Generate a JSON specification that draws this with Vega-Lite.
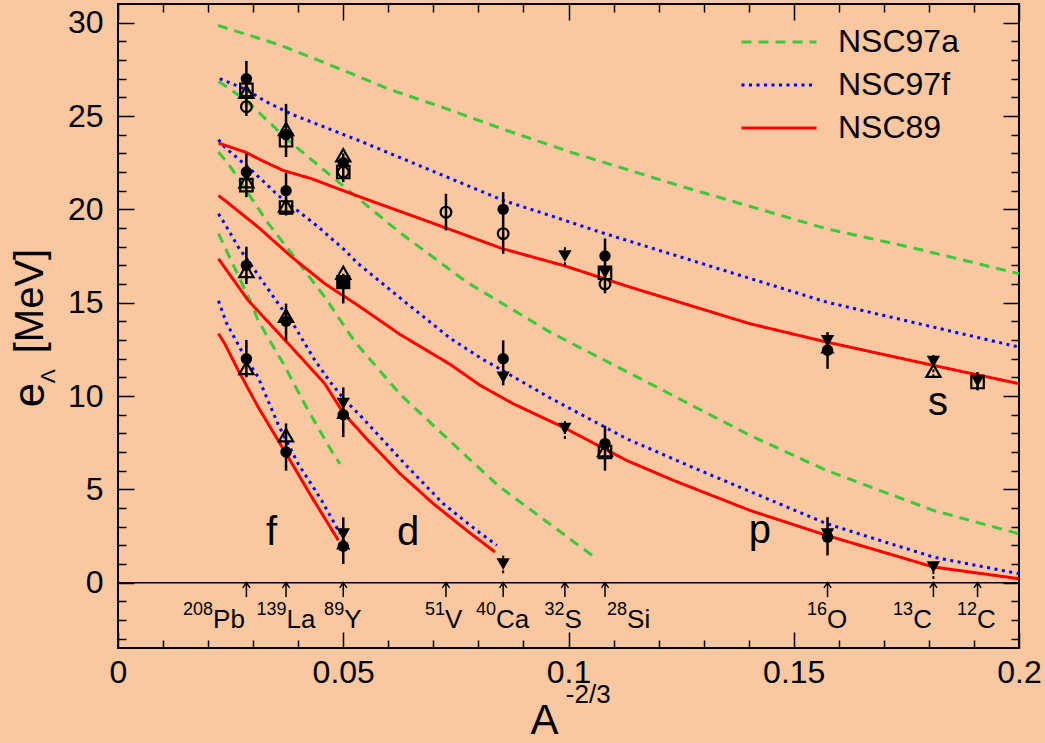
{
  "$schema": "https://vega.github.io/schema/vega-lite/v6.json",
  "width": 901,
  "height": 644,
  "autosize": {"type": "none"},
  "padding": {"left": 118, "top": 4, "right": 26, "bottom": 95},
  "background": "#FAC8A0",
  "config": {
    "view": {"stroke": "black", "strokeWidth": 2},
    "font": "Liberation Sans",
    "axis": {"domain": false, "grid": false, "tickColor": "black", "labelColor": "black", "labelFont": "Liberation Sans", "labelFontSize": 32, "tickWidth": 1.5, "titleColor": "black", "titleFont": "Liberation Sans", "titleFontWeight": "normal"},
    "legend": {"orient": "none", "legendX": 622, "legendY": 23, "symbolType": "stroke", "symbolSize": 5625, "symbolStrokeWidth": 3, "labelFontSize": 32, "labelFont": "Liberation Sans", "labelColor": "black", "clipHeight": 30, "rowPadding": 11, "labelOffset": 20, "padding": 0}
  },
  "datasets": {
    "curves": [
      {"m": "NSC97a", "c": "g1", "x": 0.0222, "y": 29.85}, {"m": "NSC97a", "c": "g1", "x": 0.036, "y": 28.8}, {"m": "NSC97a", "c": "g1", "x": 0.05, "y": 27.45}, {"m": "NSC97a", "c": "g1", "x": 0.06, "y": 26.45}, {"m": "NSC97a", "c": "g1", "x": 0.072, "y": 25.47}, {"m": "NSC97a", "c": "g1", "x": 0.0854, "y": 24.3}, {"m": "NSC97a", "c": "g1", "x": 0.1, "y": 23.1}, {"m": "NSC97a", "c": "g1", "x": 0.1255, "y": 21.2}, {"m": "NSC97a", "c": "g1", "x": 0.1573, "y": 18.96}, {"m": "NSC97a", "c": "g1", "x": 0.1773, "y": 17.89}, {"m": "NSC97a", "c": "g1", "x": 0.2, "y": 16.55},
      {"m": "NSC97a", "c": "g2", "x": 0.0223, "y": 26.85}, {"m": "NSC97a", "c": "g2", "x": 0.0237, "y": 26.63}, {"m": "NSC97a", "c": "g2", "x": 0.0286, "y": 25.8}, {"m": "NSC97a", "c": "g2", "x": 0.0378, "y": 23.69}, {"m": "NSC97a", "c": "g2", "x": 0.05, "y": 21.25}, {"m": "NSC97a", "c": "g2", "x": 0.0626, "y": 18.75}, {"m": "NSC97a", "c": "g2", "x": 0.0774, "y": 16.1}, {"m": "NSC97a", "c": "g2", "x": 0.0959, "y": 13.42}, {"m": "NSC97a", "c": "g2", "x": 0.1181, "y": 10.66}, {"m": "NSC97a", "c": "g2", "x": 0.1403, "y": 7.89}, {"m": "NSC97a", "c": "g2", "x": 0.1573, "y": 6.01}, {"m": "NSC97a", "c": "g2", "x": 0.181, "y": 3.87}, {"m": "NSC97a", "c": "g2", "x": 0.2, "y": 2.62},
      {"m": "NSC97a", "c": "g3", "x": 0.0223, "y": 23.07}, {"m": "NSC97a", "c": "g3", "x": 0.0245, "y": 22.44}, {"m": "NSC97a", "c": "g3", "x": 0.0334, "y": 19.23}, {"m": "NSC97a", "c": "g3", "x": 0.0386, "y": 17.62}, {"m": "NSC97a", "c": "g3", "x": 0.0459, "y": 15.3}, {"m": "NSC97a", "c": "g3", "x": 0.0526, "y": 12.9}, {"m": "NSC97a", "c": "g3", "x": 0.0626, "y": 10.1}, {"m": "NSC97a", "c": "g3", "x": 0.0759, "y": 7.09}, {"m": "NSC97a", "c": "g3", "x": 0.0848, "y": 5.12}, {"m": "NSC97a", "c": "g3", "x": 0.1062, "y": 1.29},
      {"m": "NSC97a", "c": "g4", "x": 0.0223, "y": 18.7}, {"m": "NSC97a", "c": "g4", "x": 0.0293, "y": 15.12}, {"m": "NSC97a", "c": "g4", "x": 0.0311, "y": 14.05}, {"m": "NSC97a", "c": "g4", "x": 0.0367, "y": 11.73}, {"m": "NSC97a", "c": "g4", "x": 0.0422, "y": 9.23}, {"m": "NSC97a", "c": "g4", "x": 0.0482, "y": 6.73}, {"m": "NSC97a", "c": "g4", "x": 0.0493, "y": 6.37},
      {"m": "NSC97f", "c": "b1", "x": 0.0226, "y": 27.0}, {"m": "NSC97f", "c": "b1", "x": 0.0286, "y": 26.4}, {"m": "NSC97f", "c": "b1", "x": 0.0326, "y": 25.8}, {"m": "NSC97f", "c": "b1", "x": 0.0385, "y": 25.1}, {"m": "NSC97f", "c": "b1", "x": 0.0533, "y": 23.7}, {"m": "NSC97f", "c": "b1", "x": 0.0855, "y": 20.48}, {"m": "NSC97f", "c": "b1", "x": 0.0959, "y": 19.67}, {"m": "NSC97f", "c": "b1", "x": 0.107, "y": 18.78}, {"m": "NSC97f", "c": "b1", "x": 0.1573, "y": 15.03}, {"m": "NSC97f", "c": "b1", "x": 0.181, "y": 13.69}, {"m": "NSC97f", "c": "b1", "x": 0.2, "y": 12.62},
      {"m": "NSC97f", "c": "b2", "x": 0.0223, "y": 23.73}, {"m": "NSC97f", "c": "b2", "x": 0.0237, "y": 23.33}, {"m": "NSC97f", "c": "b2", "x": 0.0297, "y": 22.08}, {"m": "NSC97f", "c": "b2", "x": 0.0356, "y": 20.74}, {"m": "NSC97f", "c": "b2", "x": 0.0445, "y": 19.05}, {"m": "NSC97f", "c": "b2", "x": 0.0504, "y": 17.8}, {"m": "NSC97f", "c": "b2", "x": 0.0533, "y": 17.09}, {"m": "NSC97f", "c": "b2", "x": 0.0633, "y": 15.12}, {"m": "NSC97f", "c": "b2", "x": 0.0737, "y": 13.1}, {"m": "NSC97f", "c": "b2", "x": 0.0807, "y": 12.0}, {"m": "NSC97f", "c": "b2", "x": 0.0855, "y": 11.35}, {"m": "NSC97f", "c": "b2", "x": 0.0959, "y": 9.9}, {"m": "NSC97f", "c": "b2", "x": 0.1129, "y": 7.71}, {"m": "NSC97f", "c": "b2", "x": 0.1292, "y": 6.01}, {"m": "NSC97f", "c": "b2", "x": 0.1573, "y": 3.16}, {"m": "NSC97f", "c": "b2", "x": 0.181, "y": 1.37}, {"m": "NSC97f", "c": "b2", "x": 0.2, "y": 0.48},
      {"m": "NSC97f", "c": "b3", "x": 0.0223, "y": 19.76}, {"m": "NSC97f", "c": "b3", "x": 0.0237, "y": 19.23}, {"m": "NSC97f", "c": "b3", "x": 0.0267, "y": 17.98}, {"m": "NSC97f", "c": "b3", "x": 0.0304, "y": 16.73}, {"m": "NSC97f", "c": "b3", "x": 0.0356, "y": 14.94}, {"m": "NSC97f", "c": "b3", "x": 0.0393, "y": 13.69}, {"m": "NSC97f", "c": "b3", "x": 0.0437, "y": 11.91}, {"m": "NSC97f", "c": "b3", "x": 0.0474, "y": 10.66}, {"m": "NSC97f", "c": "b3", "x": 0.0504, "y": 9.77}, {"m": "NSC97f", "c": "b3", "x": 0.0541, "y": 8.87}, {"m": "NSC97f", "c": "b3", "x": 0.0641, "y": 6.25}, {"m": "NSC97f", "c": "b3", "x": 0.0722, "y": 4.23}, {"m": "NSC97f", "c": "b3", "x": 0.0796, "y": 2.8}, {"m": "NSC97f", "c": "b3", "x": 0.0841, "y": 2.0},
      {"m": "NSC97f", "c": "b4", "x": 0.0223, "y": 15.1}, {"m": "NSC97f", "c": "b4", "x": 0.0241, "y": 13.9}, {"m": "NSC97f", "c": "b4", "x": 0.0282, "y": 12.08}, {"m": "NSC97f", "c": "b4", "x": 0.0311, "y": 11.01}, {"m": "NSC97f", "c": "b4", "x": 0.0356, "y": 8.45}, {"m": "NSC97f", "c": "b4", "x": 0.04, "y": 6.37}, {"m": "NSC97f", "c": "b4", "x": 0.0452, "y": 4.41}, {"m": "NSC97f", "c": "b4", "x": 0.0489, "y": 2.8}, {"m": "NSC97f", "c": "b4", "x": 0.0493, "y": 2.62},
      {"m": "NSC89", "c": "r1", "x": 0.0223, "y": 23.55}, {"m": "NSC89", "c": "r1", "x": 0.0282, "y": 23.07}, {"m": "NSC89", "c": "r1", "x": 0.0319, "y": 22.62}, {"m": "NSC89", "c": "r1", "x": 0.0367, "y": 22.08}, {"m": "NSC89", "c": "r1", "x": 0.043, "y": 21.64}, {"m": "NSC89", "c": "r1", "x": 0.0489, "y": 21.1}, {"m": "NSC89", "c": "r1", "x": 0.0548, "y": 20.57}, {"m": "NSC89", "c": "r1", "x": 0.0693, "y": 19.31}, {"m": "NSC89", "c": "r1", "x": 0.0854, "y": 17.89}, {"m": "NSC89", "c": "r1", "x": 0.0989, "y": 16.99}, {"m": "NSC89", "c": "r1", "x": 0.1137, "y": 15.83}, {"m": "NSC89", "c": "r1", "x": 0.1403, "y": 13.87}, {"m": "NSC89", "c": "r1", "x": 0.1573, "y": 12.89}, {"m": "NSC89", "c": "r1", "x": 0.181, "y": 11.64}, {"m": "NSC89", "c": "r1", "x": 0.2, "y": 10.66},
      {"m": "NSC89", "c": "r2", "x": 0.0223, "y": 20.74}, {"m": "NSC89", "c": "r2", "x": 0.0237, "y": 20.48}, {"m": "NSC89", "c": "r2", "x": 0.0311, "y": 19.05}, {"m": "NSC89", "c": "r2", "x": 0.0386, "y": 17.44}, {"m": "NSC89", "c": "r2", "x": 0.0459, "y": 16.02}, {"m": "NSC89", "c": "r2", "x": 0.0533, "y": 14.85}, {"m": "NSC89", "c": "r2", "x": 0.0626, "y": 13.3}, {"m": "NSC89", "c": "r2", "x": 0.0737, "y": 11.7}, {"m": "NSC89", "c": "r2", "x": 0.0804, "y": 10.57}, {"m": "NSC89", "c": "r2", "x": 0.0877, "y": 9.59}, {"m": "NSC89", "c": "r2", "x": 0.0988, "y": 8.33}, {"m": "NSC89", "c": "r2", "x": 0.1129, "y": 6.55}, {"m": "NSC89", "c": "r2", "x": 0.1233, "y": 5.48}, {"m": "NSC89", "c": "r2", "x": 0.1403, "y": 3.87}, {"m": "NSC89", "c": "r2", "x": 0.1573, "y": 2.53}, {"m": "NSC89", "c": "r2", "x": 0.181, "y": 0.84}, {"m": "NSC89", "c": "r2", "x": 0.2, "y": 0.21},
      {"m": "NSC89", "c": "r3", "x": 0.0223, "y": 17.35}, {"m": "NSC89", "c": "r3", "x": 0.0289, "y": 15.12}, {"m": "NSC89", "c": "r3", "x": 0.0385, "y": 12.62}, {"m": "NSC89", "c": "r3", "x": 0.0459, "y": 10.66}, {"m": "NSC89", "c": "r3", "x": 0.05, "y": 9.1}, {"m": "NSC89", "c": "r3", "x": 0.0552, "y": 7.7}, {"m": "NSC89", "c": "r3", "x": 0.0626, "y": 5.84}, {"m": "NSC89", "c": "r3", "x": 0.07, "y": 4.23}, {"m": "NSC89", "c": "r3", "x": 0.0774, "y": 2.8}, {"m": "NSC89", "c": "r3", "x": 0.0837, "y": 1.64},
      {"m": "NSC89", "c": "r4", "x": 0.0223, "y": 13.34}, {"m": "NSC89", "c": "r4", "x": 0.0237, "y": 12.8}, {"m": "NSC89", "c": "r4", "x": 0.0267, "y": 11.37}, {"m": "NSC89", "c": "r4", "x": 0.0311, "y": 9.41}, {"m": "NSC89", "c": "r4", "x": 0.0371, "y": 7.0}, {"m": "NSC89", "c": "r4", "x": 0.043, "y": 4.59}, {"m": "NSC89", "c": "r4", "x": 0.0489, "y": 2.27}
    ],
    "err": [
      {"x": 0.0285, "lo": 25.0, "hi": 27.95, "d": 0}, {"x": 0.0285, "lo": 20.65, "hi": 22.98, "d": 0}, {"x": 0.0285, "lo": 16.0, "hi": 18.0, "d": 0}, {"x": 0.0285, "lo": 11.0, "hi": 13.0, "d": 0},
      {"x": 0.0373, "lo": 22.8, "hi": 25.65, "d": 0}, {"x": 0.0373, "lo": 19.67, "hi": 21.94, "d": 0}, {"x": 0.0373, "lo": 12.98, "hi": 14.95, "d": 0}, {"x": 0.0373, "lo": 6.0, "hi": 8.53, "d": 0},
      {"x": 0.05, "lo": 21.46, "hi": 23.0, "d": 0}, {"x": 0.05, "lo": 14.96, "hi": 16.55, "d": 0}, {"x": 0.05, "lo": 7.8, "hi": 10.46, "d": 0}, {"x": 0.05, "lo": 1.0, "hi": 3.5, "d": 0},
      {"x": 0.0728, "lo": 18.87, "hi": 20.83, "d": 0},
      {"x": 0.0855, "lo": 17.62, "hi": 20.92, "d": 0}, {"x": 0.0855, "lo": 10.57, "hi": 12.98, "d": 0}, {"x": 0.0855, "lo": 0.5, "hi": 1.46, "d": 1},
      {"x": 0.0992, "lo": 17.0, "hi": 18.0, "d": 1}, {"x": 0.0992, "lo": 7.7, "hi": 8.7, "d": 1},
      {"x": 0.1081, "lo": 15.5, "hi": 18.44, "d": 0}, {"x": 0.1081, "lo": 6.0, "hi": 8.4, "d": 0},
      {"x": 0.1575, "lo": 11.46, "hi": 13.42, "d": 0}, {"x": 0.1575, "lo": 1.46, "hi": 3.51, "d": 0},
      {"x": 0.181, "lo": 11.0, "hi": 12.2, "d": 1}, {"x": 0.181, "lo": 0.2, "hi": 1.1, "d": 1},
      {"x": 0.1908, "lo": 10.3, "hi": 11.28, "d": 0}
    ],
    "pts": [
      {"m": "fc", "x": 0.0285, "y": 27.0}, {"m": "fc", "x": 0.0285, "y": 22.0}, {"m": "fc", "x": 0.0285, "y": 17.0}, {"m": "fc", "x": 0.0285, "y": 12.0},
      {"m": "fc", "x": 0.0373, "y": 24.0}, {"m": "fc", "x": 0.0373, "y": 21.0}, {"m": "fc", "x": 0.0373, "y": 14.0}, {"m": "fc", "x": 0.0373, "y": 7.0},
      {"m": "fc", "x": 0.05, "y": 22.5}, {"m": "fc", "x": 0.05, "y": 9.0}, {"m": "fc", "x": 0.05, "y": 1.95},
      {"m": "fc", "x": 0.0855, "y": 20.0}, {"m": "fc", "x": 0.0855, "y": 12.0},
      {"m": "fc", "x": 0.1081, "y": 17.5}, {"m": "fc", "x": 0.1081, "y": 7.45},
      {"m": "fc", "x": 0.1575, "y": 12.45}, {"m": "fc", "x": 0.1575, "y": 2.44},
      {"m": "oc", "x": 0.0285, "y": 25.5}, {"m": "oc", "x": 0.05, "y": 22.0}, {"m": "oc", "x": 0.0728, "y": 19.85}, {"m": "oc", "x": 0.0855, "y": 18.7}, {"m": "oc", "x": 0.1081, "y": 16.0},
      {"m": "os", "x": 0.0285, "y": 26.4}, {"m": "os", "x": 0.0285, "y": 21.3}, {"m": "os", "x": 0.0373, "y": 23.7}, {"m": "os", "x": 0.0373, "y": 20.1}, {"m": "os", "x": 0.05, "y": 22.0}, {"m": "os", "x": 0.1081, "y": 16.6}, {"m": "os", "x": 0.1081, "y": 7.0}, {"m": "os", "x": 0.1908, "y": 10.75},
      {"m": "fs", "x": 0.05, "y": 16.1},
      {"m": "ot", "x": 0.0285, "y": 26.3}, {"m": "ot", "x": 0.0285, "y": 21.5}, {"m": "ot", "x": 0.0285, "y": 16.7}, {"m": "ot", "x": 0.0285, "y": 11.5},
      {"m": "ot", "x": 0.0373, "y": 24.3}, {"m": "ot", "x": 0.0373, "y": 20.2}, {"m": "ot", "x": 0.0373, "y": 14.3}, {"m": "ot", "x": 0.0373, "y": 7.9},
      {"m": "ot", "x": 0.05, "y": 22.9}, {"m": "ot", "x": 0.05, "y": 16.6}, {"m": "ot", "x": 0.1081, "y": 7.1}, {"m": "ot", "x": 0.181, "y": 11.35},
      {"m": "ft", "x": 0.05, "y": 9.1}, {"m": "ft", "x": 0.05, "y": 2.1}, {"m": "ft", "x": 0.1575, "y": 12.6},
      {"m": "fd", "x": 0.05, "y": 9.6}, {"m": "fd", "x": 0.05, "y": 2.6}, {"m": "fd", "x": 0.0855, "y": 11.0}, {"m": "fd", "x": 0.0855, "y": 1.0},
      {"m": "fd", "x": 0.0992, "y": 17.5}, {"m": "fd", "x": 0.0992, "y": 8.25}, {"m": "fd", "x": 0.1081, "y": 16.6},
      {"m": "fd", "x": 0.1575, "y": 12.95}, {"m": "fd", "x": 0.1575, "y": 2.6}, {"m": "fd", "x": 0.181, "y": 11.85}, {"m": "fd", "x": 0.181, "y": 0.84}, {"m": "fd", "x": 0.1908, "y": 10.8}
    ],
    "nuc": [
      {"x": 0.0285, "jx": 0.0211, "sup": "208", "el": "Pb"},
      {"x": 0.0373, "jx": 0.0374, "sup": "139", "el": "La"},
      {"x": 0.05, "jx": 0.0502, "sup": "89", "el": "Y"},
      {"x": 0.0728, "jx": 0.0726, "sup": "51", "el": "V"},
      {"x": 0.0855, "jx": 0.0839, "sup": "40", "el": "Ca"},
      {"x": 0.0992, "jx": 0.0991, "sup": "32", "el": "S"},
      {"x": 0.1081, "jx": 0.113, "sup": "28", "el": "Si"},
      {"x": 0.1575, "jx": 0.1574, "sup": "16", "el": "O"},
      {"x": 0.181, "jx": 0.1765, "sup": "13", "el": "C"},
      {"x": 0.1908, "jx": 0.1907, "sup": "12", "el": "C"}
    ],
    "orb": [
      {"t": "s", "x": 0.182, "y": 8.98},
      {"t": "p", "x": 0.1425, "y": 2.11},
      {"t": "f", "x": 0.0341, "y": 2.02},
      {"t": "d", "x": 0.0644, "y": 2.02}
    ]
  },
  "resolve": {"axis": {"x": "independent", "y": "independent"}},
  "layer": [
    {
      "data": {"name": "curves"},
      "mark": {"type": "line", "strokeWidth": 3},
      "encoding": {
        "x": {"field": "x", "type": "quantitative", "scale": {"domain": [0, 0.2], "nice": false, "zero": false},
          "axis": {"orient": "bottom", "values": [0, 0.05, 0.1, 0.15, 0.2], "format": "~g", "tickSize": -16, "labelPadding": 25, "labelFlush": false, "labelOverlap": false, "domain": false, "grid": false,
            "title": "A", "titleFontSize": 42, "titleX": 412, "titleY": 94, "titleAlign": "left", "titleBaseline": "bottom", "titleAnchor": "start"}},
        "y": {"field": "y", "type": "quantitative", "scale": {"domain": [-3.5, 31], "nice": false, "zero": false},
          "axis": {"orient": "left", "values": [0, 5, 10, 15, 20, 25, 30], "tickSize": -16, "labelPadding": 31, "labelOverlap": false, "domain": false, "grid": false,
            "title": "e", "titleFontSize": 44, "titleAngle": 270, "titleX": -75, "titleY": 402.7, "titleAlign": "left", "titleBaseline": "alphabetic", "titleAnchor": "start"}},
        "detail": {"field": "c"},
        "color": {"field": "m", "type": "nominal", "title": null, "scale": {"domain": ["NSC97a", "NSC97f", "NSC89"], "range": ["#3CC83C", "#0000FF", "#FF0000"]}},
        "strokeDash": {"field": "m", "type": "nominal", "title": null, "scale": {"domain": ["NSC97a", "NSC97f", "NSC89"], "range": [[10, 7], [3, 4.5], [1, 0]]}}
      }
    },
    {
      "data": {"values": [{"y": 0}]},
      "mark": {"type": "rule", "color": "black", "strokeWidth": 1.5},
      "encoding": {
        "y": {"field": "y", "type": "quantitative", "scale": {"domain": [-3.5, 31], "nice": false, "zero": false}, "axis": null}
      }
    },
    {
      "data": {"name": "nuc"},
      "mark": {"type": "point", "shape": "M0,0L0,1.8M-0.45,0.65L0,0L0.45,0.65", "size": 256, "filled": false, "color": "black", "strokeWidth": 1.5, "opacity": 1},
      "encoding": {
        "x": {"field": "x", "type": "quantitative", "scale": {"domain": [0, 0.2], "nice": false, "zero": false}, "axis": null},
        "y": {"datum": 0, "type": "quantitative", "scale": {"domain": [-3.5, 31], "nice": false, "zero": false}, "axis": null}
      }
    },
    {
      "data": {"name": "nuc"},
      "mark": {"type": "text", "align": "right", "baseline": "alphabetic", "fontSize": 18, "font": "Liberation Sans", "color": "black"},
      "encoding": {
        "x": {"field": "jx", "type": "quantitative", "scale": {"domain": [0, 0.2], "nice": false, "zero": false}, "axis": null},
        "y": {"datum": -1.73, "type": "quantitative", "scale": {"domain": [-3.5, 31], "nice": false, "zero": false}, "axis": null},
        "text": {"field": "sup"}
      }
    },
    {
      "data": {"name": "nuc"},
      "mark": {"type": "text", "align": "left", "baseline": "alphabetic", "fontSize": 26, "font": "Liberation Sans", "color": "black"},
      "encoding": {
        "x": {"field": "jx", "type": "quantitative", "scale": {"domain": [0, 0.2], "nice": false, "zero": false}, "axis": null},
        "y": {"datum": -2.43, "type": "quantitative", "scale": {"domain": [-3.5, 31], "nice": false, "zero": false}, "axis": null},
        "text": {"field": "el"}
      }
    },
    {
      "data": {"name": "orb"},
      "mark": {"type": "text", "align": "center", "baseline": "alphabetic", "fontSize": 40, "font": "Liberation Sans", "color": "black"},
      "encoding": {
        "x": {"field": "x", "type": "quantitative", "scale": {"domain": [0, 0.2], "nice": false, "zero": false}, "axis": null},
        "y": {"field": "y", "type": "quantitative", "scale": {"domain": [-3.5, 31], "nice": false, "zero": false}, "axis": null},
        "text": {"field": "t"}
      }
    },
    {
      "data": {"values": [{"t": "-2/3"}]},
      "mark": {"type": "text", "align": "left", "baseline": "alphabetic", "fontSize": 26, "font": "Liberation Sans", "color": "black"},
      "encoding": {
        "x": {"datum": 0.0994, "type": "quantitative", "scale": {"domain": [0, 0.2], "nice": false, "zero": false}, "axis": null},
        "y": {"datum": -6.45, "type": "quantitative", "scale": {"domain": [-3.5, 31], "nice": false, "zero": false}, "axis": null},
        "text": {"field": "t"}
      }
    },
    {
      "data": {"values": [{"t": "Λ"}]},
      "mark": {"type": "text", "align": "left", "baseline": "alphabetic", "angle": 270, "fontSize": 21, "font": "Liberation Sans", "color": "black"},
      "encoding": {
        "x": {"datum": -0.01398, "type": "quantitative", "scale": {"domain": [0, 0.2], "nice": false, "zero": false}, "axis": null},
        "y": {"datum": 10.68, "type": "quantitative", "scale": {"domain": [-3.5, 31], "nice": false, "zero": false}, "axis": null},
        "text": {"field": "t"}
      }
    },
    {
      "data": {"values": [{"t": "[MeV]"}]},
      "mark": {"type": "text", "align": "left", "baseline": "alphabetic", "angle": 270, "fontSize": 40, "font": "Liberation Sans", "color": "black"},
      "encoding": {
        "x": {"datum": -0.01665, "type": "quantitative", "scale": {"domain": [0, 0.2], "nice": false, "zero": false}, "axis": null},
        "y": {"datum": 12.29, "type": "quantitative", "scale": {"domain": [-3.5, 31], "nice": false, "zero": false}, "axis": null},
        "text": {"field": "t"}
      }
    },
    {
      "data": {"name": "err"},
      "transform": [{"filter": "datum.d == 0"}],
      "mark": {"type": "rule", "color": "black", "strokeWidth": 2.5},
      "encoding": {
        "x": {"field": "x", "type": "quantitative", "scale": {"domain": [0, 0.2], "nice": false, "zero": false}, "axis": null},
        "y": {"field": "lo", "type": "quantitative", "scale": {"domain": [-3.5, 31], "nice": false, "zero": false}, "axis": null},
        "y2": {"field": "hi"}
      }
    },
    {
      "data": {"name": "err"},
      "transform": [{"filter": "datum.d == 1"}],
      "mark": {"type": "rule", "color": "black", "strokeWidth": 2, "strokeDash": [3, 2]},
      "encoding": {
        "x": {"field": "x", "type": "quantitative", "scale": {"domain": [0, 0.2], "nice": false, "zero": false}, "axis": null},
        "y": {"field": "lo", "type": "quantitative", "scale": {"domain": [-3.5, 31], "nice": false, "zero": false}, "axis": null},
        "y2": {"field": "hi"}
      }
    },
    {
      "data": {"name": "pts"},
      "transform": [{"filter": "datum.m == 'fc'"}],
      "mark": {"type": "point", "shape": "circle", "filled": true, "size": 130, "color": "black", "opacity": 1},
      "encoding": {
        "x": {"field": "x", "type": "quantitative", "scale": {"domain": [0, 0.2], "nice": false, "zero": false},
          "axis": {"orient": "bottom", "values": [0.01, 0.02, 0.03, 0.04, 0.06, 0.07, 0.08, 0.09, 0.11, 0.12, 0.13, 0.14, 0.16, 0.17, 0.18, 0.19], "tickSize": -8, "labels": false, "domain": false, "grid": false, "title": null}},
        "y": {"field": "y", "type": "quantitative", "scale": {"domain": [-3.5, 31], "nice": false, "zero": false},
          "axis": {"orient": "left", "values": [-3, -2, -1, 1, 2, 3, 4, 6, 7, 8, 9, 11, 12, 13, 14, 16, 17, 18, 19, 21, 22, 23, 24, 26, 27, 28, 29], "tickSize": -8, "labels": false, "domain": false, "grid": false, "title": null}}
      }
    },
    {
      "data": {"name": "pts"},
      "transform": [{"filter": "datum.m == 'oc'"}],
      "mark": {"type": "point", "shape": "circle", "filled": false, "size": 115, "color": "black", "strokeWidth": 2.2, "opacity": 1},
      "encoding": {
        "x": {"field": "x", "type": "quantitative", "scale": {"domain": [0, 0.2], "nice": false, "zero": false},
          "axis": {"orient": "top", "values": [0, 0.05, 0.1, 0.15, 0.2], "tickSize": -16, "labels": false, "domain": false, "grid": false, "title": null}},
        "y": {"field": "y", "type": "quantitative", "scale": {"domain": [-3.5, 31], "nice": false, "zero": false},
          "axis": {"orient": "right", "values": [0, 5, 10, 15, 20, 25, 30], "tickSize": -16, "labels": false, "domain": false, "grid": false, "title": null}}
      }
    },
    {
      "data": {"name": "pts"},
      "transform": [{"filter": "datum.m == 'os'"}],
      "mark": {"type": "point", "shape": "square", "filled": false, "size": 155, "color": "black", "strokeWidth": 2.2, "opacity": 1},
      "encoding": {
        "x": {"field": "x", "type": "quantitative", "scale": {"domain": [0, 0.2], "nice": false, "zero": false},
          "axis": {"orient": "top", "values": [0.01, 0.02, 0.03, 0.04, 0.06, 0.07, 0.08, 0.09, 0.11, 0.12, 0.13, 0.14, 0.16, 0.17, 0.18, 0.19], "tickSize": -8, "labels": false, "domain": false, "grid": false, "title": null}},
        "y": {"field": "y", "type": "quantitative", "scale": {"domain": [-3.5, 31], "nice": false, "zero": false},
          "axis": {"orient": "right", "values": [-3, -2, -1, 1, 2, 3, 4, 6, 7, 8, 9, 11, 12, 13, 14, 16, 17, 18, 19, 21, 22, 23, 24, 26, 27, 28, 29], "tickSize": -8, "labels": false, "domain": false, "grid": false, "title": null}}
      }
    },
    {
      "data": {"name": "pts"},
      "transform": [{"filter": "datum.m == 'fs'"}],
      "mark": {"type": "point", "shape": "square", "filled": true, "size": 200, "color": "black", "opacity": 1},
      "encoding": {
        "x": {"field": "x", "type": "quantitative", "scale": {"domain": [0, 0.2], "nice": false, "zero": false}, "axis": null},
        "y": {"field": "y", "type": "quantitative", "scale": {"domain": [-3.5, 31], "nice": false, "zero": false}, "axis": null}
      }
    },
    {
      "data": {"name": "pts"},
      "transform": [{"filter": "datum.m == 'ot'"}],
      "mark": {"type": "point", "shape": "triangle-up", "filled": false, "size": 200, "color": "black", "strokeWidth": 2.2, "opacity": 1},
      "encoding": {
        "x": {"field": "x", "type": "quantitative", "scale": {"domain": [0, 0.2], "nice": false, "zero": false}, "axis": null},
        "y": {"field": "y", "type": "quantitative", "scale": {"domain": [-3.5, 31], "nice": false, "zero": false}, "axis": null}
      }
    },
    {
      "data": {"name": "pts"},
      "transform": [{"filter": "datum.m == 'ft'"}],
      "mark": {"type": "point", "shape": "triangle-up", "filled": true, "size": 200, "color": "black", "opacity": 1},
      "encoding": {
        "x": {"field": "x", "type": "quantitative", "scale": {"domain": [0, 0.2], "nice": false, "zero": false}, "axis": null},
        "y": {"field": "y", "type": "quantitative", "scale": {"domain": [-3.5, 31], "nice": false, "zero": false}, "axis": null}
      }
    },
    {
      "data": {"name": "pts"},
      "transform": [{"filter": "datum.m == 'fd'"}],
      "mark": {"type": "point", "shape": "triangle-down", "filled": true, "size": 180, "color": "black", "opacity": 1},
      "encoding": {
        "x": {"field": "x", "type": "quantitative", "scale": {"domain": [0, 0.2], "nice": false, "zero": false}, "axis": null},
        "y": {"field": "y", "type": "quantitative", "scale": {"domain": [-3.5, 31], "nice": false, "zero": false}, "axis": null}
      }
    }
  ]
}
